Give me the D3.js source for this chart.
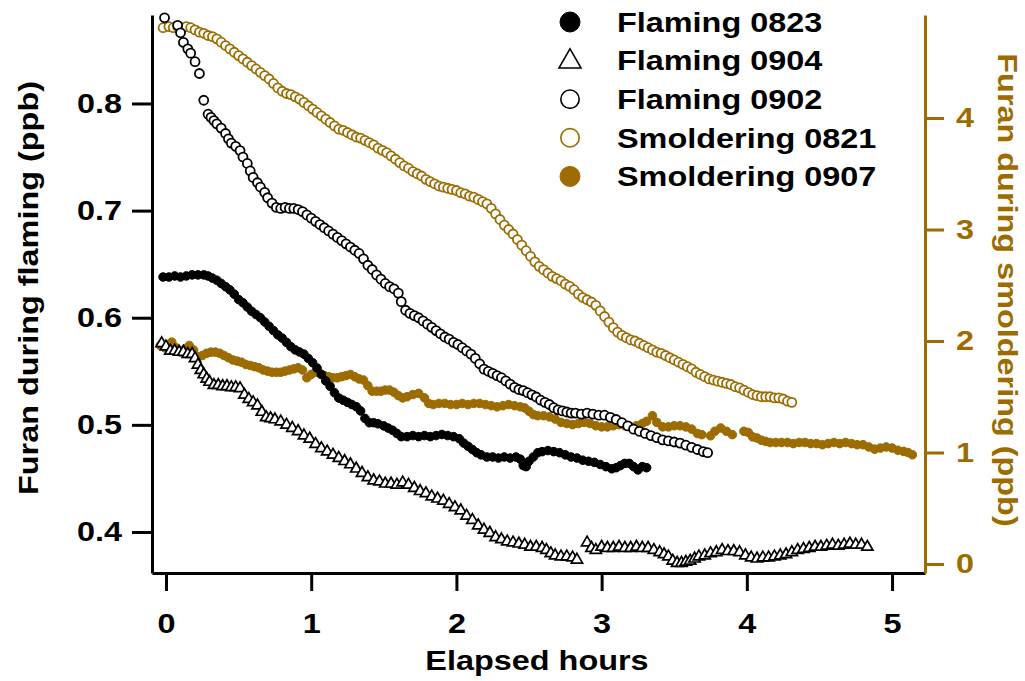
<!DOCTYPE html>
<html>
<head>
<meta charset="utf-8">
<script src="https://cdn.jsdelivr.net/npm/d3@7"></script>
<style>
  body { margin: 0; background: #fff; }
  text { font-family: "Liberation Sans", Arial, sans-serif; font-weight: bold; }
</style>
</head>
<body>
<svg id="chart" width="1025" height="681"></svg>
<script>
// [elapsed hours, furan ppb]
var flaming0823 = [[-0.02,0.638],[0.02,0.638],[0.06,0.639],[0.10,0.638],[0.14,0.639],[0.18,0.640],[0.22,0.640],[0.26,0.640],[0.29,0.639],[0.32,0.637],[0.35,0.635],[0.38,0.632],[0.41,0.629],[0.44,0.626],[0.47,0.622],[0.50,0.617],[0.53,0.614],[0.56,0.610],[0.59,0.606],[0.62,0.603],[0.65,0.600],[0.68,0.596],[0.71,0.592],[0.74,0.588],[0.77,0.584],[0.80,0.581],[0.83,0.577],[0.86,0.573],[0.89,0.570],[0.92,0.568],[0.95,0.566],[0.98,0.562],[1.01,0.558],[1.04,0.553],[1.07,0.547],[1.10,0.541],[1.13,0.536],[1.16,0.530],[1.19,0.525],[1.22,0.523],[1.25,0.521],[1.28,0.519],[1.31,0.517],[1.34,0.513],[1.37,0.506],[1.40,0.502],[1.43,0.502],[1.46,0.501],[1.50,0.499],[1.53,0.497],[1.56,0.495],[1.59,0.492],[1.62,0.489],[1.66,0.489],[1.70,0.490],[1.74,0.489],[1.78,0.490],[1.82,0.489],[1.86,0.490],[1.90,0.491],[1.94,0.490],[1.98,0.489],[2.02,0.487],[2.05,0.483],[2.08,0.480],[2.11,0.477],[2.14,0.474],[2.17,0.472],[2.21,0.470],[2.25,0.470],[2.29,0.469],[2.33,0.470],[2.37,0.469],[2.41,0.470],[2.44,0.468],[2.46,0.462],[2.48,0.461],[2.50,0.466],[2.53,0.470],[2.56,0.474],[2.59,0.475],[2.63,0.476],[2.67,0.475],[2.71,0.474],[2.75,0.472],[2.79,0.470],[2.83,0.469],[2.87,0.467],[2.91,0.466],[2.95,0.465],[2.99,0.463],[3.03,0.461],[3.07,0.459],[3.10,0.460],[3.13,0.462],[3.16,0.464],[3.19,0.464],[3.22,0.461],[3.25,0.458],[3.28,0.461],[3.31,0.460]];
var flaming0904 = [[-0.03,0.576],[0.00,0.573],[0.03,0.569],[0.06,0.569],[0.09,0.568],[0.12,0.568],[0.15,0.566],[0.18,0.566],[0.20,0.562],[0.22,0.556],[0.24,0.551],[0.26,0.547],[0.28,0.543],[0.30,0.540],[0.33,0.537],[0.36,0.537],[0.39,0.536],[0.42,0.536],[0.45,0.535],[0.48,0.535],[0.51,0.534],[0.54,0.528],[0.57,0.524],[0.60,0.521],[0.63,0.518],[0.66,0.512],[0.69,0.507],[0.72,0.506],[0.75,0.505],[0.79,0.503],[0.83,0.500],[0.87,0.497],[0.91,0.494],[0.95,0.490],[0.99,0.487],[1.03,0.482],[1.07,0.478],[1.11,0.475],[1.15,0.472],[1.19,0.469],[1.23,0.466],[1.27,0.463],[1.31,0.459],[1.35,0.455],[1.39,0.451],[1.43,0.448],[1.47,0.447],[1.51,0.445],[1.55,0.445],[1.59,0.444],[1.63,0.446],[1.67,0.444],[1.71,0.441],[1.75,0.438],[1.79,0.436],[1.83,0.433],[1.87,0.431],[1.91,0.429],[1.95,0.426],[1.99,0.423],[2.03,0.420],[2.07,0.415],[2.11,0.411],[2.15,0.406],[2.19,0.402],[2.23,0.399],[2.27,0.395],[2.31,0.393],[2.35,0.391],[2.39,0.390],[2.43,0.389],[2.47,0.388],[2.51,0.386],[2.55,0.386],[2.59,0.385],[2.62,0.383],[2.65,0.380],[2.68,0.378],[2.72,0.377],[2.76,0.377],[2.80,0.376],[2.83,0.374],[2.90,0.390],[2.93,0.385],[2.96,0.383],[3.00,0.386],[3.04,0.385],[3.08,0.385],[3.12,0.386],[3.16,0.385],[3.20,0.385],[3.24,0.386],[3.28,0.385],[3.32,0.385],[3.36,0.383],[3.40,0.381],[3.43,0.379],[3.46,0.377],[3.49,0.373],[3.52,0.371],[3.55,0.371],[3.58,0.372],[3.61,0.373],[3.64,0.375],[3.67,0.377],[3.71,0.378],[3.75,0.380],[3.79,0.381],[3.83,0.383],[3.87,0.382],[3.91,0.382],[3.95,0.381],[3.99,0.378],[4.03,0.376],[4.07,0.375],[4.11,0.376],[4.15,0.376],[4.19,0.377],[4.23,0.378],[4.27,0.379],[4.31,0.381],[4.35,0.383],[4.39,0.384],[4.43,0.385],[4.47,0.386],[4.51,0.386],[4.55,0.387],[4.59,0.388],[4.63,0.387],[4.67,0.388],[4.71,0.389],[4.75,0.388],[4.79,0.388],[4.83,0.386]];
var flaming0902 = [[-0.01,0.880],[0.08,0.873],[0.10,0.866],[0.12,0.857],[0.15,0.851],[0.17,0.847],[0.20,0.839],[0.23,0.828],[0.26,0.803],[0.29,0.790],[0.31,0.787],[0.33,0.784],[0.35,0.781],[0.38,0.777],[0.41,0.772],[0.43,0.767],[0.45,0.763],[0.48,0.760],[0.51,0.756],[0.53,0.750],[0.56,0.744],[0.58,0.737],[0.60,0.731],[0.63,0.726],[0.65,0.722],[0.68,0.717],[0.70,0.712],[0.73,0.707],[0.76,0.703],[0.79,0.702],[0.82,0.703],[0.85,0.702],[0.88,0.702],[0.91,0.701],[0.94,0.699],[0.97,0.696],[1.00,0.693],[1.03,0.690],[1.06,0.687],[1.09,0.684],[1.12,0.681],[1.15,0.678],[1.18,0.675],[1.21,0.672],[1.24,0.669],[1.27,0.666],[1.30,0.663],[1.33,0.660],[1.36,0.655],[1.39,0.649],[1.42,0.645],[1.45,0.640],[1.48,0.636],[1.51,0.632],[1.54,0.629],[1.57,0.627],[1.60,0.623],[1.62,0.615],[1.65,0.607],[1.68,0.604],[1.71,0.602],[1.74,0.600],[1.77,0.597],[1.80,0.594],[1.83,0.591],[1.86,0.588],[1.89,0.585],[1.92,0.582],[1.95,0.580],[1.98,0.577],[2.01,0.575],[2.04,0.572],[2.07,0.569],[2.10,0.566],[2.13,0.562],[2.16,0.557],[2.19,0.552],[2.22,0.550],[2.25,0.548],[2.28,0.546],[2.31,0.544],[2.34,0.541],[2.37,0.538],[2.40,0.535],[2.43,0.533],[2.46,0.532],[2.49,0.530],[2.52,0.528],[2.55,0.526],[2.58,0.523],[2.61,0.521],[2.64,0.519],[2.67,0.516],[2.70,0.514],[2.73,0.513],[2.76,0.512],[2.79,0.511],[2.82,0.511],[2.86,0.510],[2.90,0.511],[2.94,0.510],[2.98,0.509],[3.02,0.509],[3.06,0.507],[3.10,0.505],[3.14,0.502],[3.18,0.499],[3.22,0.496],[3.26,0.494],[3.30,0.492],[3.34,0.490],[3.38,0.488],[3.42,0.486],[3.46,0.485],[3.50,0.484],[3.54,0.483],[3.58,0.481],[3.62,0.479],[3.66,0.477],[3.70,0.475],[3.73,0.474]];
var smoldering0821 = [[-0.02,4.81],[0.02,4.82],[0.05,4.81],[0.08,4.82],[0.11,4.81],[0.14,4.82],[0.17,4.81],[0.20,4.79],[0.23,4.77],[0.26,4.76],[0.29,4.74],[0.32,4.73],[0.35,4.71],[0.38,4.68],[0.41,4.65],[0.44,4.62],[0.47,4.59],[0.50,4.56],[0.53,4.53],[0.56,4.50],[0.59,4.47],[0.62,4.44],[0.65,4.41],[0.68,4.38],[0.71,4.35],[0.74,4.31],[0.77,4.27],[0.80,4.24],[0.83,4.22],[0.86,4.21],[0.89,4.19],[0.92,4.17],[0.95,4.14],[0.98,4.11],[1.01,4.08],[1.04,4.05],[1.07,4.02],[1.10,3.99],[1.13,3.96],[1.16,3.93],[1.19,3.90],[1.22,3.89],[1.25,3.87],[1.28,3.85],[1.31,3.83],[1.34,3.82],[1.37,3.80],[1.40,3.78],[1.43,3.76],[1.46,3.73],[1.49,3.71],[1.52,3.69],[1.55,3.66],[1.58,3.63],[1.61,3.60],[1.64,3.57],[1.67,3.55],[1.70,3.52],[1.73,3.50],[1.76,3.48],[1.79,3.45],[1.82,3.43],[1.85,3.41],[1.88,3.39],[1.91,3.38],[1.94,3.37],[1.97,3.36],[2.00,3.35],[2.03,3.33],[2.06,3.32],[2.09,3.30],[2.12,3.29],[2.15,3.27],[2.18,3.25],[2.21,3.23],[2.24,3.19],[2.27,3.14],[2.30,3.09],[2.33,3.04],[2.36,3.00],[2.39,2.96],[2.42,2.91],[2.45,2.86],[2.48,2.81],[2.51,2.76],[2.54,2.71],[2.57,2.67],[2.60,2.64],[2.63,2.61],[2.66,2.58],[2.69,2.56],[2.72,2.54],[2.75,2.51],[2.78,2.49],[2.81,2.46],[2.84,2.42],[2.87,2.39],[2.90,2.37],[2.93,2.35],[2.96,2.32],[2.99,2.27],[3.02,2.22],[3.05,2.17],[3.08,2.12],[3.11,2.08],[3.14,2.05],[3.17,2.03],[3.20,2.01],[3.23,2.00],[3.26,1.98],[3.29,1.96],[3.32,1.94],[3.35,1.92],[3.38,1.90],[3.41,1.89],[3.44,1.87],[3.47,1.85],[3.50,1.83],[3.53,1.81],[3.56,1.79],[3.59,1.77],[3.62,1.75],[3.65,1.72],[3.68,1.70],[3.71,1.68],[3.74,1.66],[3.77,1.65],[3.80,1.64],[3.83,1.63],[3.86,1.62],[3.89,1.61],[3.92,1.59],[3.95,1.58],[3.98,1.56],[4.01,1.54],[4.04,1.52],[4.07,1.51],[4.10,1.50],[4.13,1.50],[4.16,1.50],[4.19,1.49],[4.22,1.49],[4.25,1.48],[4.28,1.46],[4.31,1.45]];
var smoldering0907 = [[-0.04,1.96],[-0.01,1.94],[0.02,1.97],[0.04,1.99],[0.07,1.94],[0.10,1.90],[0.13,1.93],[0.16,1.96],[0.19,1.92],[0.22,1.86],[0.25,1.87],[0.28,1.89],[0.31,1.90],[0.34,1.90],[0.37,1.89],[0.40,1.87],[0.43,1.85],[0.46,1.83],[0.49,1.82],[0.52,1.81],[0.55,1.79],[0.58,1.78],[0.61,1.77],[0.64,1.76],[0.67,1.74],[0.70,1.73],[0.73,1.72],[0.76,1.72],[0.79,1.72],[0.82,1.73],[0.85,1.74],[0.88,1.75],[0.91,1.76],[0.94,1.74],[0.97,1.67],[1.00,1.70],[1.03,1.72],[1.06,1.71],[1.09,1.69],[1.12,1.68],[1.15,1.67],[1.18,1.67],[1.21,1.68],[1.24,1.69],[1.27,1.70],[1.30,1.68],[1.33,1.66],[1.36,1.65],[1.39,1.60],[1.42,1.55],[1.45,1.55],[1.48,1.55],[1.51,1.56],[1.54,1.56],[1.57,1.54],[1.60,1.51],[1.63,1.49],[1.66,1.50],[1.70,1.52],[1.74,1.53],[1.78,1.49],[1.81,1.44],[1.84,1.43],[1.88,1.44],[1.92,1.44],[1.96,1.43],[2.00,1.43],[2.04,1.44],[2.08,1.43],[2.12,1.44],[2.16,1.44],[2.20,1.43],[2.24,1.42],[2.28,1.41],[2.32,1.42],[2.36,1.43],[2.40,1.42],[2.44,1.41],[2.47,1.40],[2.50,1.37],[2.53,1.34],[2.56,1.33],[2.60,1.33],[2.64,1.32],[2.68,1.30],[2.72,1.27],[2.76,1.26],[2.80,1.25],[2.84,1.26],[2.88,1.27],[2.92,1.26],[2.96,1.24],[3.00,1.23],[3.04,1.23],[3.08,1.24],[3.12,1.25],[3.16,1.24],[3.20,1.23],[3.24,1.24],[3.28,1.26],[3.31,1.28],[3.35,1.33],[3.38,1.27],[3.42,1.23],[3.46,1.23],[3.50,1.24],[3.54,1.24],[3.58,1.23],[3.62,1.21],[3.66,1.17],[3.69,1.16],[3.75,1.15],[3.78,1.19],[3.82,1.22],[3.86,1.19],[3.90,1.16],[3.98,1.19],[4.01,1.18],[4.04,1.14],[4.07,1.13],[4.10,1.11],[4.13,1.10],[4.16,1.09],[4.20,1.09],[4.24,1.09],[4.28,1.09],[4.32,1.08],[4.36,1.09],[4.40,1.09],[4.44,1.08],[4.48,1.08],[4.52,1.07],[4.56,1.08],[4.60,1.09],[4.64,1.08],[4.68,1.09],[4.72,1.08],[4.76,1.07],[4.80,1.07],[4.84,1.05],[4.88,1.03],[4.92,1.04],[4.96,1.05],[5.00,1.04],[5.04,1.02],[5.08,1.01],[5.11,1.00],[5.14,0.98]];

var xTicks = [0, 1, 2, 3, 4, 5];
var leftTicks = [0.4, 0.5, 0.6, 0.7, 0.8];
var rightTicks = [0, 1, 2, 3, 4];

var gold = "#9c6c00";

var series = [
    { name: "Flaming 0823", data: flaming0823, axis: "left", shape: "circle", fill: "#000", stroke: "#000" },
    { name: "Flaming 0904", data: flaming0904, axis: "left", shape: "triangle", fill: "#fff", stroke: "#000" },
    { name: "Flaming 0902", data: flaming0902, axis: "left", shape: "circle", fill: "#fff", stroke: "#000" },
    { name: "Smoldering 0821", data: smoldering0821, axis: "right", shape: "circle", fill: "#fff", stroke: gold },
    { name: "Smoldering 0907", data: smoldering0907, axis: "right", shape: "circle", fill: gold, stroke: gold }
];
// drawing order: gold traces first, black ones on top
var drawOrder = [3, 4, 1, 2, 0];

var svg = d3.select("#chart");

var x = d3.scaleLinear().domain([-0.0964, 5.227]).range([152, 925]);
var yL = d3.scaleLinear().domain([0.3617, 0.8826]).range([573, 15]);
var yR = d3.scaleLinear().domain([-0.0807, 4.924]).range([573, 15]);

// the reference font is wider than Liberation Sans, stretch text a bit
function stretch(sel, k) {
    sel.each(function () {
        var w = this.getComputedTextLength();
        d3.select(this)
            .attr("textLength", w * k)
            .attr("lengthAdjust", "spacingAndGlyphs");
    });
}

function styleAxis(g, color) {
    g.attr("font-size", 27)
        .attr("font-family", "Liberation Sans, Arial, sans-serif")
        .attr("font-weight", "bold");
    g.select(".domain").attr("stroke", color).attr("stroke-width", 3);
    g.selectAll(".tick line").attr("stroke", color).attr("stroke-width", 3);
    g.selectAll(".tick text").attr("fill", color);
    stretch(g.selectAll(".tick text"), 1.2);
}

// markers
function drawMarkers(s) {
    var y = s.axis == "left" ? yL : yR;
    var g = svg.append("g").attr("class", "series");
    if (s.shape == "triangle") {
        g.selectAll("path")
            .data(s.data)
            .enter()
            .append("path")
            .attr("d", d3.symbol().type(d3.symbolTriangle).size(55))
            .attr("transform", function (d) { return "translate(" + x(d[0]) + "," + y(d[1]) + ")"; })
            .attr("fill", s.fill)
            .attr("stroke", s.stroke)
            .attr("stroke-width", 1.7);
    } else {
        var filled = s.fill != "#fff";
        g.selectAll("circle")
            .data(s.data)
            .enter()
            .append("circle")
            .attr("cx", function (d) { return x(d[0]); })
            .attr("cy", function (d) { return y(d[1]); })
            .attr("r", filled ? 4.3 : 4.5)
            .attr("fill", s.fill)
            .attr("stroke", s.stroke)
            .attr("stroke-width", filled ? 1 : 1.8);
    }
}
drawOrder.forEach(function (i) { drawMarkers(series[i]); });

// axes
var gx = svg.append("g")
    .attr("transform", "translate(0,573)")
    .call(d3.axisBottom(x).tickValues(xTicks).tickSize(18).tickSizeOuter(0).tickPadding(23).tickFormat(d3.format("d")));
styleAxis(gx, "#000");

var gl = svg.append("g")
    .attr("transform", "translate(152,0)")
    .call(d3.axisLeft(yL).tickValues(leftTicks).tickSize(20).tickSizeOuter(0).tickPadding(10).tickFormat(d3.format(".1f")));
styleAxis(gl, "#000");

var gr = svg.append("g")
    .attr("transform", "translate(925,0)")
    .call(d3.axisRight(yR).tickValues(rightTicks).tickSize(19).tickSizeOuter(0).tickPadding(12).tickFormat(d3.format("d")));
styleAxis(gr, gold);

// axis titles
var xTitle = svg.append("text")
    .attr("x", 537)
    .attr("y", 670)
    .attr("text-anchor", "middle")
    .attr("font-size", 27)
    .text("Elapsed hours");
stretch(xTitle, 1.2);

var lTitle = svg.append("text")
    .attr("transform", "translate(28.5,288) rotate(-90)")
    .attr("dy", "0.36em")
    .attr("text-anchor", "middle")
    .attr("font-size", 27)
    .text("Furan during flaming (ppb)");
stretch(lTitle, 1.2);

var rTitle = svg.append("text")
    .attr("transform", "translate(1008,290) rotate(90)")
    .attr("dy", "0.36em")
    .attr("text-anchor", "middle")
    .attr("font-size", 27)
    .attr("fill", gold)
    .text("Furan during smoldering (ppb)");
stretch(rTitle, 1.2);

// legend
var legend = svg.append("g").attr("class", "legend");
var rows = legend.selectAll("g")
    .data(series)
    .enter()
    .append("g")
    .attr("transform", function (d, i) { return "translate(570," + (22 + i * 38.6) + ")"; });

rows.each(function (s) {
    var row = d3.select(this);
    if (s.shape == "triangle") {
        row.append("path")
            .attr("d", d3.symbol().type(d3.symbolTriangle).size(210))
            .attr("transform", "translate(0,1)")
            .attr("fill", "#fff")
            .attr("stroke", s.stroke)
            .attr("stroke-width", 1.6);
    } else {
        var filled = s.fill != "#fff";
        row.append("circle")
            .attr("r", filled ? 10 : 9.2)
            .attr("fill", s.fill)
            .attr("stroke", s.stroke)
            .attr("stroke-width", filled ? 1 : 1.6);
    }
});

var labels = rows.append("text")
    .attr("x", 47)
    .attr("dy", "0.36em")
    .attr("font-size", 27)
    .attr("fill", "#000")
    .text(function (d) { return d.name; });
stretch(labels, 1.2);
</script>
</body>
</html>
